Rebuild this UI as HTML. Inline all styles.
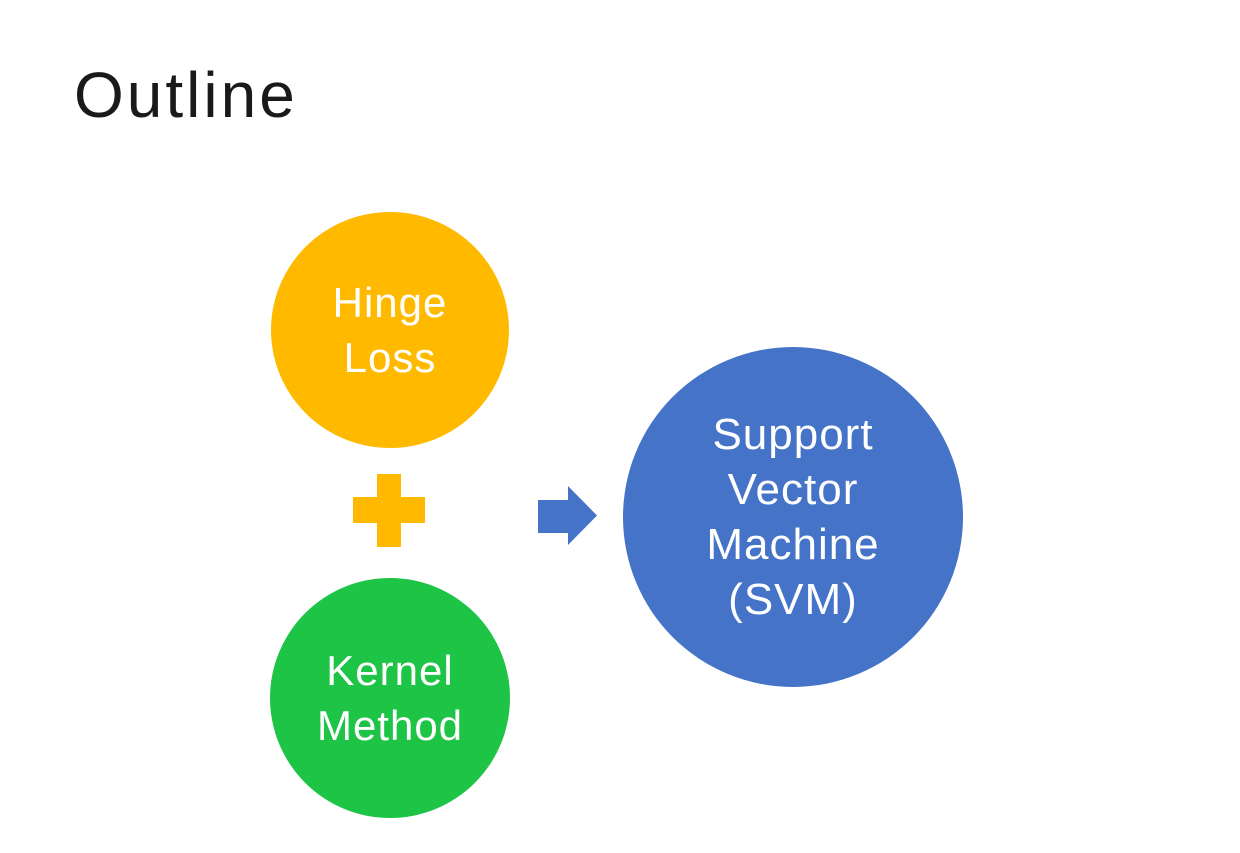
<!DOCTYPE html>
<html><head><meta charset="utf-8"><style>
body{margin:0;width:1240px;height:853px;background:#fff;position:relative;overflow:hidden;font-family:"Liberation Sans",sans-serif}
.t{position:absolute;left:74px;top:58px;font-size:64px;color:#1a1a1a;letter-spacing:3px}
.c{position:absolute;border-radius:50%;display:flex;align-items:center;justify-content:center;text-align:center;color:#fff;font-size:42px;line-height:55px;letter-spacing:1px}
</style></head><body>
<div class="t">Outline</div>
<div class="c" style="left:271px;top:212px;width:238px;height:236px;background:#FFBA00">Hinge<br>Loss</div>
<div class="c" style="left:270px;top:578px;width:240px;height:240px;background:#1EC445">Kernel<br>Method</div>
<div class="c" style="left:623px;top:347px;width:340px;height:340px;background:#4473C8;font-size:44px;line-height:55px">Support<br>Vector<br>Machine<br>(SVM)</div>
<svg style="position:absolute;left:0;top:0" width="1240" height="853">
<path d="M377 474H401V497H425V523H401V547H377V523H353V497H377Z" fill="#FFBA00"/>
<path d="M538 500H568V486L597 515.5L568 545V533H538Z" fill="#4473C8"/>
</svg>
</body></html>
